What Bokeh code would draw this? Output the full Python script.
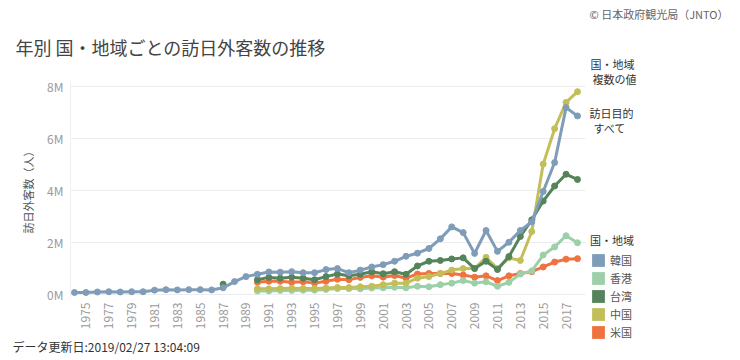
import math
from bokeh.plotting import figure
from bokeh.models import (ColumnDataSource, FixedTicker, Label, Legend, LegendItem,
                          Range1d, Title)
from bokeh.layouts import row, column
from bokeh.embed import file_html
from bokeh.resources import INLINE

nan = float("nan")

# ---------------- data (values in millions of visitors) ----------------
years_korea = list(range(1974, 2019))
korea = [0.08, 0.08, 0.10, 0.11, 0.10, 0.11, 0.11, 0.17, 0.19, 0.18,
         0.19, 0.19, 0.18, 0.26, 0.50, 0.69, 0.78, 0.87, 0.86, 0.88,
         0.84, 0.84, 0.96, 1.00, 0.84, 0.94, 1.06, 1.15, 1.28, 1.47,
         1.59, 1.77, 2.14, 2.60, 2.38, 1.58, 2.46, 1.66, 2.01, 2.46,
         2.79, 3.96, 5.07, 7.18, 6.86]

years_taiwan = list(range(1987, 2019))
taiwan = [0.40, nan, nan, 0.57, 0.66, 0.63, 0.67, 0.63, 0.57, 0.69,
          0.79, 0.72, 0.78, 0.88, 0.80, 0.88, 0.78, 1.10, 1.28, 1.31,
          1.37, 1.41, 1.00, 1.28, 0.96, 1.46, 2.23, 2.87, 3.59, 4.17,
          4.62, 4.42]

years_other = list(range(1990, 2019))
hongkong = [0.14, 0.14, 0.16, 0.16, 0.17, 0.17, 0.20, 0.23, 0.23, 0.22,
            0.25, 0.26, 0.28, 0.26, 0.32, 0.30, 0.38, 0.44, 0.54, 0.44,
            0.49, 0.32, 0.47, 0.79, 0.91, 1.52, 1.83, 2.26, 1.99]
china = [0.22, 0.22, 0.23, 0.24, 0.23, 0.23, 0.25, 0.27, 0.27, 0.30,
         0.32, 0.38, 0.44, 0.44, 0.63, 0.69, 0.81, 0.94, 1.00, 1.00,
         1.43, 1.00, 1.41, 1.31, 2.42, 5.01, 6.37, 7.38, 7.79]
usa = [0.47, 0.51, 0.51, 0.47, 0.49, 0.44, 0.51, 0.59, 0.57, 0.66,
       0.72, 0.67, 0.73, 0.63, 0.79, 0.81, 0.81, 0.81, 0.75, 0.67,
       0.72, 0.54, 0.72, 0.81, 0.88, 1.06, 1.25, 1.36, 1.38]

series_names = ["韓国", "香港", "台湾", "中国", "米国"]
series_colors = ["#7f9cb9", "#9dd0a8", "#55835a", "#c2bf5a", "#f0733f"]

x_ticks = [1975, 1977, 1979, 1981, 1983, 1985, 1987, 1989, 1991, 1993, 1995,
           1997, 1999, 2001, 2003, 2005, 2007, 2009, 2011, 2013, 2015, 2017]
y_ticks = [0, 2, 4, 6, 8]
y_tick_labels = ["0M", "2M", "4M", "6M", "8M"]

title_text = "年別 国・地域ごとの訪日外客数の推移"
credit_text = "© 日本政府観光局（JNTO）"
footer_text = "データ更新日:2019/02/27 13:04:09"
y_title = "訪日外客数（人）"
filter_lines = ["国・地域", "複数の値", "訪日目的", "すべて"]
legend_title = "国・地域"

JP = "Noto Sans CJK JP"

# ---------------- main chart ----------------
p = figure(width=586, height=358, output_backend="svg", toolbar_location=None,
           x_range=Range1d(1973.65, 2018.7), y_range=Range1d(-0.15, 8.22),
           min_border_left=70, min_border_right=1, min_border_top=80,
           min_border_bottom=52)
p.outline_line_color = None
p.background_fill_color = "white"
p.xgrid.grid_line_color = None
p.ygrid.grid_line_color = "#ececec"
p.ygrid.grid_line_width = 1

p.title.text = title_text
p.title.align = "left"
p.title.offset = -55
p.title.standoff = 41
p.title.text_font = JP
p.title.text_font_size = "18px"
p.title.text_font_style = "normal"
p.title.text_color = "#444444"

foot = Title(text=footer_text, align="left", offset=-58, standoff=7,
             text_font=JP, text_font_size="12px", text_font_style="normal",
             text_color="#333333")
p.add_layout(foot, "below")

p.xaxis.ticker = FixedTicker(ticks=x_ticks)
p.yaxis.ticker = FixedTicker(ticks=y_ticks)
p.yaxis.major_label_overrides = {t: l for t, l in zip(y_ticks, y_tick_labels)}
p.xaxis.major_label_orientation = math.pi / 2

for ax in (p.xaxis, p.yaxis):
    ax.axis_line_color = None
    ax.major_tick_line_color = None
    ax.minor_tick_line_color = None
    ax.major_tick_out = 0
    ax.minor_tick_out = 0
    ax.major_label_text_color = "#9a9a9a"
    ax.major_label_text_font = JP
    ax.major_label_text_font_size = "12px"
p.yaxis.major_label_standoff = 7
p.xaxis.major_label_standoff = 4
p.yaxis.axis_line_color = "#f0f0f0"

p.yaxis.axis_label = y_title
p.yaxis.axis_label_text_font = JP
p.yaxis.axis_label_text_font_size = "11px"
p.yaxis.axis_label_text_font_style = "normal"
p.yaxis.axis_label_text_color = "#555555"
p.yaxis.axis_label_standoff = 8

data = {
    "韓国": (years_korea, korea),
    "香港": (years_other, hongkong),
    "台湾": (years_taiwan, taiwan),
    "中国": (years_other, china),
    "米国": (years_other, usa),
}
draw_order = ["米国", "香港", "中国", "台湾", "韓国"]
for name in draw_order:
    yrs, vals = data[name]
    color = series_colors[series_names.index(name)]
    src = ColumnDataSource(dict(x=yrs, y=vals))
    p.line("x", "y", source=src, line_color=color, line_width=3)
    p.scatter("x", "y", source=src, size=6, fill_color=color, line_color=color)

# ---------------- right side: credit, filters, legend ----------------
side = figure(width=152, height=358, output_backend="svg", toolbar_location=None,
              x_range=Range1d(0, 152), y_range=Range1d(0, 358),
              x_axis_location=None, y_axis_location=None,
              min_border=0, min_border_left=0, min_border_right=0,
              min_border_top=0, min_border_bottom=0)
side.outline_line_color = None
side.grid.visible = False


def add_label(f, text, x, y, size, color, align="left"):
    f.add_layout(Label(x=x, y=y, x_units="screen", y_units="screen", text=text,
                       text_font=JP, text_font_size=size, text_color=color,
                       text_align=align, text_baseline="middle"))


add_label(side, credit_text, 142, 345, "11px", "#666666", align="right")
add_label(side, filter_lines[0], 4, 295, "11px", "#333333")
add_label(side, filter_lines[1], 6, 280, "11px", "#333333")
add_label(side, filter_lines[2], 3, 246, "11px", "#333333")
add_label(side, filter_lines[3], 7, 231, "11px", "#333333")

items = []
for name, color in zip(series_names, series_colors):
    r = side.quad(left=[nan], right=[nan], top=[nan], bottom=[nan],
                  fill_color=color, line_color=None)
    items.append(LegendItem(label=name, renderers=[r]))

legend = Legend(items=items, location=(4, 18), title=legend_title,
                padding=0, margin=0, spacing=2, glyph_width=16, glyph_height=16,
                label_standoff=4, label_height=16, title_standoff=4,
                border_line_color=None, background_fill_alpha=0)
legend.title_text_font = JP
legend.title_text_font_size = "11px"
legend.title_text_font_style = "normal"
legend.title_text_color = "#333333"
legend.label_text_font = JP
legend.label_text_font_size = "11px"
legend.label_text_color = "#555555"
side.add_layout(legend, "center")

layout = row(column(p), side)

open("out.html", "w").write(file_html(layout, INLINE))
